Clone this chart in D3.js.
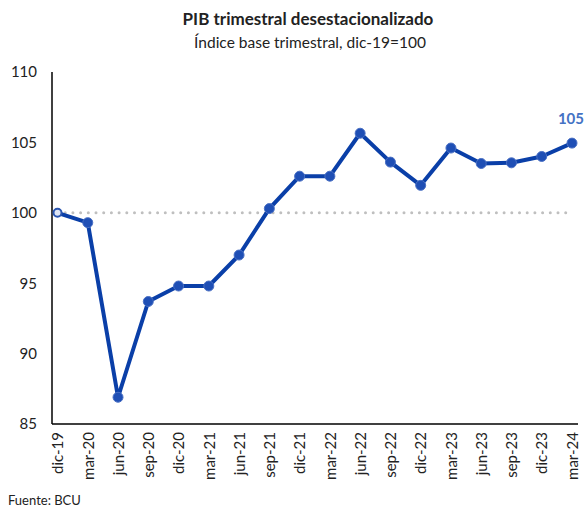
<!DOCTYPE html>
<html><head><meta charset="utf-8">
<script src="https://cdn.jsdelivr.net/npm/d3@7"></script>
<style>body{margin:0;background:#fff}svg{display:block}text{font-family:Lato,"Open Sans",sans-serif}</style>
</head><body>
<script>
const categories = ["dic-19","mar-20","jun-20","sep-20","dic-20","mar-21","jun-21","sep-21","dic-21","mar-22","jun-22","sep-22","dic-22","mar-23","jun-23","sep-23","dic-23","mar-24"];
const values = [100, 99.3, 86.9, 93.7, 94.8, 94.8, 97.0, 100.3, 102.6, 102.6, 105.65, 103.6, 101.95, 104.6, 103.5, 103.55, 104.0, 104.95];
const yTicks = [85, 90, 95, 100, 105, 110];
const baseline = 100;
const lastLabel = "105";
const title = "PIB trimestral desestacionalizado";
const subtitle = "Índice base trimestral, dic-19=100";
const source = "Fuente: BCU";

const W = 585, H = 508;
const svg = d3.select("body").append("svg").attr("width", W).attr("height", H);
const x = d3.scalePoint().domain(categories).range([57.5, 572]);
const y = d3.scaleLinear().domain([85, 110]).range([424, 72]);

svg.append("text").attr("x", 308).attr("y", 25).attr("text-anchor","middle")
  .attr("font-weight","bold").attr("font-size",17).attr("fill","#222").text(title);
svg.append("text").attr("x", 310).attr("y", 48).attr("text-anchor","middle")
  .attr("font-size",15.5).attr("fill","#222").text(subtitle);

// y axis
const ya = svg.append("g").attr("transform","translate(52,0)")
  .call(d3.axisLeft(y).tickValues(yTicks).tickSize(0).tickPadding(15));
ya.select(".domain").attr("stroke","#000").attr("stroke-width",1.5).attr("d","M0,72V424");
ya.selectAll("text").attr("font-size",15).attr("fill","#222").attr("font-family","Lato");

// x axis
const xa = svg.append("g").attr("transform","translate(0,424)")
  .call(d3.axisBottom(x).tickSize(0).tickPadding(8));
xa.select(".domain").attr("stroke","#000").attr("stroke-width",1.5).attr("d","M52,0H578");
xa.selectAll("text").attr("font-size",15).attr("fill","#222").attr("font-family","Lato")
  .attr("text-anchor","end").attr("dy","0.35em")
  .attr("transform","rotate(-90)").attr("x",-8).attr("y",0);

// baseline
svg.append("line").attr("x1", x(categories[0])).attr("x2", x(categories[categories.length-1]))
  .attr("y1", y(baseline)).attr("y2", y(baseline))
  .attr("stroke","#bfbfbf").attr("stroke-width",3).attr("stroke-linecap","round")
  .attr("stroke-dasharray","0 7.7");

// line
const data = categories.map((c,i)=>({c, v: values[i]}));
svg.append("path").datum(data)
  .attr("d", d3.line().x(d=>x(d.c)).y(d=>y(d.v)))
  .attr("fill","none").attr("stroke","#0a3fa8").attr("stroke-width",4).attr("stroke-linejoin","round");

svg.selectAll("circle.pt").data(data).join("circle").attr("class","pt")
  .attr("cx", d=>x(d.c)).attr("cy", d=>y(d.v)).attr("r", (d,i)=> i===0?4:5)
  .attr("fill", (d,i)=> i===0 ? "#dfe6f5" : "#1f4fb5")
  .attr("stroke", (d,i)=> i===0 ? "#2a55b0" : "#4a70c4").attr("stroke-width",(d,i)=>i===0?2:1);

const last = data[data.length-1];
svg.append("text").attr("x", 584).attr("y", y(last.v)-19).attr("text-anchor","end")
  .attr("font-weight","bold").attr("font-size",15).attr("fill","#4472c4").text(lastLabel);

svg.append("text").attr("x", 8).attr("y", 505).attr("font-size",13).attr("fill","#222").text(source);
</script>
</body></html>
